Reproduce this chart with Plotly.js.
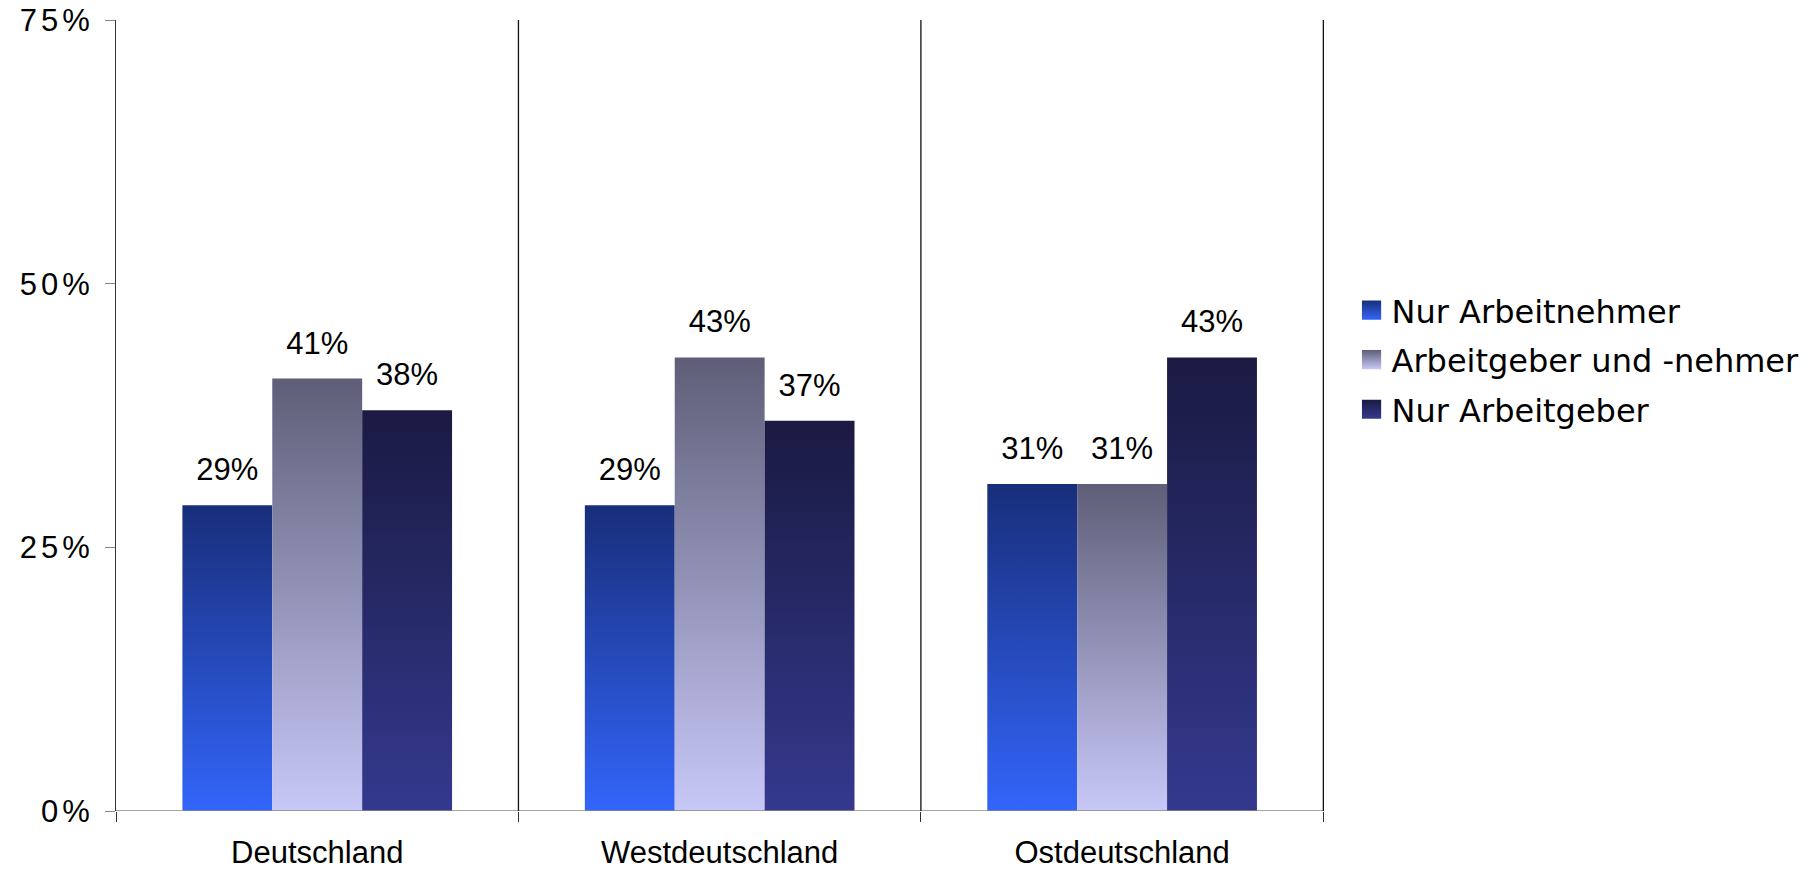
<!DOCTYPE html>
<html>
<head>
<meta charset="utf-8">
<script src="https://cdn.plot.ly/plotly-3.0.1.min.js"></script>
<style>
  html, body { margin: 0; padding: 0; background: #ffffff; }
  #chart { width: 1818px; height: 872px; }
  #chart .yaxislayer-above .ytick text { letter-spacing: 4px; }
</style>
</head>
<body>
<svg width="0" height="0" style="position:absolute">
  <defs>
    <linearGradient id="grad0" x1="0" y1="0" x2="0" y2="1">
      <stop offset="0" stop-color="#182e7a"/>
      <stop offset="1" stop-color="#3365fa"/>
    </linearGradient>
    <linearGradient id="grad1" x1="0" y1="0" x2="0" y2="1">
      <stop offset="0" stop-color="#5e5e78"/>
      <stop offset="1" stop-color="#c8c8f8"/>
    </linearGradient>
    <linearGradient id="grad2" x1="0" y1="0" x2="0" y2="1">
      <stop offset="0" stop-color="#1a1a42"/>
      <stop offset="1" stop-color="#34398e"/>
    </linearGradient>
  </defs>
</svg>
<div id="chart"></div>
<script>
// ---- data ----
const categories = ['Deutschland', 'Westdeutschland', 'Ostdeutschland'];
const seriesNames = ['Nur Arbeitnehmer', 'Arbeitgeber und -nehmer', 'Nur Arbeitgeber'];
const nurArbeitnehmer = [0.29, 0.29, 0.31];
const arbeitgeberUndNehmer = [0.41, 0.43, 0.31];
const nurArbeitgeber = [0.38, 0.37, 0.43];
const yTickVals = [0, 0.25, 0.5, 0.75];
const yTickText = ['0%', '25%', '50%', '75%'];

// ---- styles ----
const solidColors = ['#2848b8', '#9090b8', '#262a68'];
const labelFont = { family: 'Liberation Sans, Arial, sans-serif', size: 31, color: '#000000' };
const xTickFont = { family: 'Liberation Sans, Arial, sans-serif', size: 31, color: '#000000' };
const yTickFont = { family: 'Liberation Sans, Arial, sans-serif', size: 31, color: '#000000' };

const seriesValues = [nurArbeitnehmer, arbeitgeberUndNehmer, nurArbeitgeber];
const data = seriesValues.map((vals, i) => ({
  type: 'bar',
  name: seriesNames[i],
  x: categories,
  y: vals,
  legendgroup: 'g' + i,
  marker: { color: solidColors[i], line: { width: 0 } },
  texttemplate: '%{y:.0%}',
  textposition: 'outside',
  textfont: labelFont,
  constraintext: 'none',
  cliponaxis: false,
  hoverinfo: 'skip'
}));

const layout = {
  width: 1818,
  height: 872,
  paper_bgcolor: '#ffffff',
  plot_bgcolor: '#ffffff',
  margin: { l: 116, r: 494, t: 20, b: 61 },
  barmode: 'group',
  bargap: 0.33,
  bargroupgap: 0,
  showlegend: true,
  legend: {
    x: 1.0228, xanchor: 'left',
    y: 0.5705, yanchor: 'middle',
    traceorder: 'grouped',
    tracegroupgap: 5,
    font: { family: 'DejaVu Sans, Verdana, sans-serif', size: 32, color: '#000000' },
    bgcolor: 'rgba(0,0,0,0)',
    borderwidth: 0
  },
  xaxis: {
    type: 'category',
    showgrid: false,
    zeroline: false,
    showline: false,
    ticks: 'outside',
    tickson: 'boundaries',
    ticklen: 10,
    tickcolor: '#333333',
    tickwidth: 1,
    ticklabelstandoff: 20,
    tickfont: xTickFont
  },
  yaxis: {
    range: [0, 0.75],
    tickvals: yTickVals,
    ticktext: yTickText,
    showgrid: false,
    zeroline: false,
    showline: true,
    linecolor: '#333333',
    linewidth: 1,
    ticks: 'outside',
    ticklen: 10,
    tickcolor: '#888888',
    tickwidth: 1,
    ticklabelstandoff: 5,
    tickfont: yTickFont
  },
  shapes: [
    { type: 'line', xref: 'paper', yref: 'y', x0: 0, x1: 1, y0: 0, y1: 0, line: { color: '#888888', width: 1.3 }, layer: 'above' },
    { type: 'line', xref: 'x', yref: 'paper', x0: 0.5, x1: 0.5, y0: 0, y1: 1, line: { color: '#111111', width: 1.3 } },
    { type: 'line', xref: 'x', yref: 'paper', x0: 1.5, x1: 1.5, y0: 0, y1: 1, line: { color: '#111111', width: 1.3 } },
    { type: 'line', xref: 'x', yref: 'paper', x0: 2.5, x1: 2.5, y0: 0, y1: 1, line: { color: '#111111', width: 1.3 } }
  ]
};

function traceIndex(el, fallback) {
  try { return el.__data__[0].trace.index; } catch (e) { return fallback; }
}

function applyStyles(gd) {
  gd.querySelectorAll('.barlayer .trace').forEach((t, i) => {
    const idx = traceIndex(t, i);
    t.querySelectorAll('.point path').forEach(p => { p.style.fill = 'url(#grad' + idx + ')'; });
    t.querySelectorAll('text').forEach(tx => {
      tx.setAttribute('transform', 'translate(0,-15) ' + (tx.getAttribute('transform') || ''));
    });
  });
  gd.querySelectorAll('.legend .traces').forEach((t, i) => {
    const idx = traceIndex(t, i);
    t.querySelectorAll('.legendpoints path').forEach(p => {
      p.style.fill = 'url(#grad' + idx + ')';
      p.setAttribute('transform', (p.getAttribute('transform') || '') + ' scale(1.6)');
    });
  });
}

Plotly.newPlot('chart', data, layout, { displayModeBar: false, staticPlot: true })
  .then(gd => applyStyles(gd));
</script>
</body>
</html>
